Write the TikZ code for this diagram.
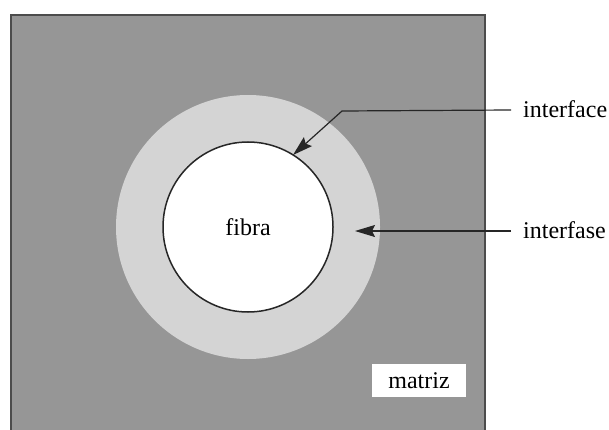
\documentclass[tikz,border=0pt]{standalone}
\usepackage{fontspec}
\setmainfont{Liberation Serif}
\usetikzlibrary{arrows.meta}
\definecolor{matrixgray}{RGB}{150,150,150}
\definecolor{phasegray}{RGB}{212,212,212}
\tikzset{
  lbl/.style={font=\fontsize{24}{28}\selectfont, inner sep=0pt},
  pointer/.style={draw=black!85, line width=1.2pt,
    -{Stealth[length=20pt,width=12pt,inset=3pt]}},
}
\begin{document}
\begin{tikzpicture}[x=1pt,y=-1pt]
  \useasboundingbox (0,0) rectangle (609,430);
  \begin{scope}
    \clip (0,0) rectangle (609,430);
    % matrix block
    \fill[matrixgray] (11,15) rectangle (485,445);
    \draw[black!70, line width=1.3pt] (11,445) -- (11,15) -- (485,15) -- (485,445);
    % interphase ring and fibre
    \fill[phasegray] (248,227) circle[radius=132];
    \fill[white] (248,227) circle[radius=85];
    \draw[black!85, line width=1.5pt] (248,227) circle[radius=85];
  \end{scope}

  \node[lbl, anchor=base] (fib) at (248,235) {fibra};
  \node[lbl, fill=white, minimum width=94pt, minimum height=33pt] (mat) at (419,380.5) {matriz};

  \node[lbl, anchor=base west] (ifc) at (523,118) {interface};
  \node[lbl, anchor=base west] (ifs) at (523,238) {interfase};

  \coordinate (ifcstart) at (511,110);
  \coordinate (ifcbend) at (342,111);
  \coordinate (ifctip) at (293,155);
  \coordinate (ifsstart) at (511,231);
  \coordinate (ifstip) at (355,231);

  \draw[pointer] (ifcstart) -- (ifcbend) -- (ifctip);
  \draw[pointer] (ifsstart) -- (ifstip);
\end{tikzpicture}
\end{document}
